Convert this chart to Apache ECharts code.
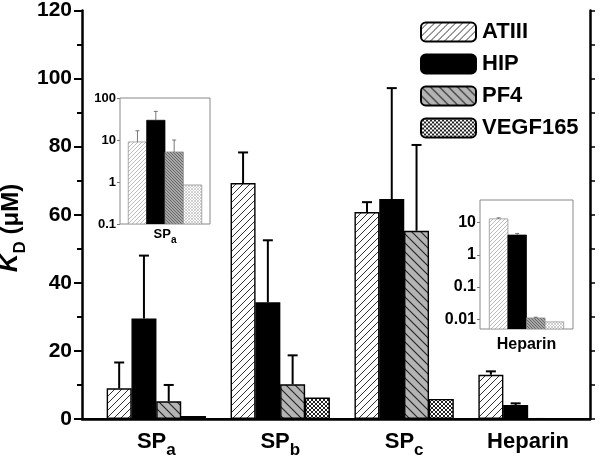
<!DOCTYPE html>
<html><head><meta charset="utf-8">
<script src="https://cdn.jsdelivr.net/npm/echarts@6/dist/echarts.min.js"></script>
<style>html,body{margin:0;padding:0;background:#fff}#c{width:600px;height:459px}</style>
</head><body><div id="c"></div>
<script>
// ---- data ----
const categories = ['SP', 'SP', 'SP', 'Heparin'];
const categorySubs = ['a', 'b', 'c', ''];
const seriesNames = ['ATIII', 'HIP', 'PF4', 'VEGF165'];
const atiii    = [9.0, 69.3, 60.8, 13.0];
const atiiiErr = [7.6, 9.0, 2.9, 1.0];
const hip      = [29.5, 34.3, 64.6, 4.1];
const hipErr   = [18.5, 18.2, 32.6, 0.5];
const pf4      = [5.2, 10.2, 55.3, 0.011];
const pf4Err   = [4.8, 8.5, 25.2, 0.0006];
const vegf     = [0.85, 6.3, 5.9, 0.0083];
const vegfErr  = [0, 0, 0, 0];
const yMain = { min: 0, max: 120, step: 20 };
const insetACat = 0;            // SPa
const insetBCat = 3;            // Heparin
const insetARange = [0.1, 100];
const insetBRange = [0.005, 50];

const values = [atiii, hip, pf4, vegf];
const errors = [atiiiErr, hipErr, pf4Err, vegfErr];

// ---- patterns ----
function hatch(size, bg, fg, lw, dir) {
  const c = document.createElement('canvas'); c.width = c.height = size;
  const g = c.getContext('2d');
  g.fillStyle = bg; g.fillRect(0, 0, size, size);
  g.strokeStyle = fg; g.lineWidth = lw; g.beginPath();
  if (dir > 0) {
    g.moveTo(-1, size + 1); g.lineTo(size + 1, -1);
    g.moveTo(-1, 1); g.lineTo(1, -1);
    g.moveTo(size - 1, size + 1); g.lineTo(size + 1, size - 1);
  } else {
    g.moveTo(-1, -1); g.lineTo(size + 1, size + 1);
    g.moveTo(size - 1, -1); g.lineTo(size + 1, 1);
    g.moveTo(-1, size - 1); g.lineTo(1, size + 1);
  }
  g.stroke();
  return { image: c, repeat: 'repeat' };
}
function cross(size, bg, fg, lw) {
  const c = document.createElement('canvas'); c.width = c.height = size;
  const g = c.getContext('2d');
  g.fillStyle = bg; g.fillRect(0, 0, size, size);
  g.strokeStyle = fg; g.lineWidth = lw; g.beginPath();
  g.moveTo(-1, size + 1); g.lineTo(size + 1, -1);
  g.moveTo(-1, -1); g.lineTo(size + 1, size + 1);
  g.stroke();
  return { image: c, repeat: 'repeat' };
}
const mainFill = [hatch(7, '#fff', '#333', 1, 1), '#000', hatch(9, '#b4b4b4', '#222', 1.1, -1), cross(4, '#fff', '#222', 1)];
const insetFill = [hatch(4, '#fff', '#aaa', 0.8, 1), '#000', hatch(3, '#a8a8a8', '#555', 0.8, -1), cross(3, '#fff', '#bbb', 0.7)];

const off = s => (s - 1.5) * 0.2;

function catLabel(v) {
  const i = Math.round(v) - 1;
  if (i < 0 || i >= categories.length) return '';
  return categorySubs[i] ? '{m|' + categories[i] + '}{s|' + categorySubs[i] + '}' : '{m|' + categories[i] + '}';
}
function richFor(big, small, drop) {
  return {
    m: { fontSize: big, fontWeight: 'bold', color: '#000', fontFamily: 'Liberation Sans', verticalAlign: 'bottom', lineHeight: big, padding: [0, 0, drop, 0] },
    s: { fontSize: small, fontWeight: 'bold', color: '#000', fontFamily: 'Liberation Sans', verticalAlign: 'bottom', lineHeight: small }
  };
}

function errRender(capHalf, lw, color) {
  return function (params, api) {
    const x = api.value(0), v = api.value(1), e = api.value(2);
    if (!(e > 0)) return;
    const p0 = api.coord([x, v]), p1 = api.coord([x, v + e]);
    return { type: 'group', children: [
      { type: 'line', shape: { x1: p0[0], y1: p0[1], x2: p1[0], y2: p1[1] }, style: { stroke: color, lineWidth: lw } },
      { type: 'line', shape: { x1: p1[0] - capHalf, y1: p1[1], x2: p1[0] + capHalf, y2: p1[1] }, style: { stroke: color, lineWidth: lw } }
    ] };
  };
}
function insetBarRender(params, api) {
  const x = api.value(0), v = api.value(1), s = api.value(2);
  const cs = params.coordSys;
  const pl = api.coord([x - 0.1, v]), pr = api.coord([x + 0.1, v]);
  const bottom = cs.y + cs.height;
  return { type: 'rect', shape: { x: pl[0], y: pl[1], width: pr[0] - pl[0], height: bottom - pl[1] },
    style: { fill: insetFill[s], stroke: s === 1 ? '#000' : '#888', lineWidth: 0.7 } };
}

const series = [];
seriesNames.forEach((name, s) => {
  series.push({
    type: 'bar', name, xAxisIndex: 0, yAxisIndex: 0, barWidth: 25, barGap: '-100%',
    data: values[s].map((v, i) => [i + 1 + off(s), v]),
    itemStyle: { color: mainFill[s], borderColor: '#000', borderWidth: 1.4 },
    z: 2, animation: false
  });
});
const mainErr = [];
seriesNames.forEach((n, s) => values[s].forEach((v, i) => mainErr.push([i + 1 + off(s), v, errors[s][i]])));
series.push({ type: 'custom', name: 'err', xAxisIndex: 0, yAxisIndex: 0, data: mainErr, renderItem: errRender(5, 2, '#000'), z: 3, animation: false, silent: true });

function insetSeries(cat, xi, yi) {
  const bars = [], errs = [];
  seriesNames.forEach((n, s) => {
    bars.push([cat + 1 + off(s), values[s][cat], s]);
    errs.push([cat + 1 + off(s), values[s][cat], errors[s][cat]]);
  });
  series.push({ type: 'custom', name: 'ib' + xi, xAxisIndex: xi, yAxisIndex: yi, data: bars, renderItem: insetBarRender, z: 12, animation: false, silent: true, clip: true });
  series.push({ type: 'custom', name: 'ie' + xi, xAxisIndex: xi, yAxisIndex: yi, data: errs, renderItem: errRender(2, 0.8, '#555'), z: 13, animation: false, silent: true });
}
insetSeries(insetACat, 2, 2);
insetSeries(insetBCat, 3, 3);

const logFmt = v => String(+(+v).toPrecision(3));

const option = {
  animation: false,
  backgroundColor: '#fff',
  textStyle: { fontFamily: 'Liberation Sans' },
  grid: [
    { left: 82, top: 9, width: 508, height: 411 },
    { left: 120, top: 98, width: 90, height: 126, show: true, borderColor: '#888', borderWidth: 1, backgroundColor: '#fff', z: 10 },
    { left: 480, top: 200, width: 93, height: 129, show: true, borderColor: '#888', borderWidth: 1, backgroundColor: '#fff', z: 10 }
  ],
  xAxis: [
    { gridIndex: 0, type: 'value', position: 'bottom', min: 0.4, max: 4.5,
      axisLine: { lineStyle: { color: '#000', width: 2.5 } }, axisTick: { show: false }, splitLine: { show: false },
      axisLabel: { customValues: [1, 2, 3, 4], formatter: v => catLabel(v), rich: richFor(22, 17, 6), margin: 18 } },
    { gridIndex: 0, type: 'value', position: 'top', min: 0.4, max: 4.5,
      axisLine: { lineStyle: { color: '#000', width: 2 } }, axisTick: { show: false }, splitLine: { show: false }, axisLabel: { show: false } },
    { gridIndex: 1, type: 'value', min: 0.51, max: 1.49, z: 11,
      axisLine: { show: false }, axisTick: { show: false }, splitLine: { show: false },
      axisLabel: { customValues: [insetACat + 1], formatter: v => catLabel(v), rich: richFor(13, 10, 4), margin: 8 } },
    { gridIndex: 2, type: 'value', min: 3.5, max: 4.5, z: 11,
      axisLine: { show: false }, axisTick: { show: false }, splitLine: { show: false },
      axisLabel: { customValues: [insetBCat + 1], formatter: v => catLabel(v), rich: richFor(16, 12, 0), margin: 8 } }
  ],
  yAxis: [
    { gridIndex: 0, type: 'value', position: 'left', min: yMain.min, max: yMain.max, interval: yMain.step,
      axisLine: { show: true, lineStyle: { color: '#000', width: 2.5 } },
      axisTick: { show: true, inside: false, length: 8, lineStyle: { color: '#000', width: 2 } },
      minorTick: { show: true, splitNumber: 2, length: 5, lineStyle: { color: '#000', width: 2 } },
      splitLine: { show: false },
      axisLabel: { fontSize: 21, fontWeight: 'bold', color: '#000', margin: 10 } },
    { gridIndex: 0, type: 'value', position: 'right', min: yMain.min, max: yMain.max, interval: yMain.step / 2,
      axisLine: { show: true, lineStyle: { color: '#000', width: 2.5 } },
      axisTick: { show: true, inside: false, length: 5, lineStyle: { color: '#000', width: 1.5 } },
      splitLine: { show: false }, axisLabel: { show: false } },
    { gridIndex: 1, type: 'log', min: insetARange[0], max: insetARange[1], splitNumber: 3, z: 11,
      axisLine: { show: false }, axisTick: { show: true, length: 3, lineStyle: { color: '#777', width: 1 } },
      splitLine: { show: false },
      axisLabel: { fontSize: 13, fontWeight: 'bold', color: '#000', margin: 4, formatter: logFmt } },
    { gridIndex: 2, type: 'log', min: insetBRange[0], max: insetBRange[1], splitNumber: 4, z: 11,
      axisLine: { show: false }, axisTick: { show: true, length: 3, lineStyle: { color: '#777', width: 1 } },
      splitLine: { show: false },
      axisLabel: { fontSize: 16, fontWeight: 'bold', color: '#000', margin: 4, formatter: logFmt, showMinLabel: false, showMaxLabel: false } }
  ],
  legend: {
    data: seriesNames, orient: 'vertical', left: 420, top: 21, padding: 0,
    itemWidth: 55, itemHeight: 19, itemGap: 10, selectedMode: false,
    textStyle: { fontSize: 22, fontWeight: 'bold', color: '#000', lineHeight: 19, padding: [0, 0, 0, 1] }
  },
  graphic: [{
    type: 'text', x: 16, y: 228, rotation: Math.PI / 2, z: 100,
    style: {
      text: '{k|K}{d|D}{n| (μM)}', align: 'center', verticalAlign: 'middle',
      rich: {
        k: { fontSize: 26, fontStyle: 'italic', fontWeight: 'bold', fill: '#000', fontFamily: 'Liberation Sans', verticalAlign: 'bottom', lineHeight: 26, padding: [0, 0, 6, 0] },
        d: { fontSize: 17, fontWeight: 'bold', fill: '#000', fontFamily: 'Liberation Sans', verticalAlign: 'bottom', lineHeight: 17 },
        n: { fontSize: 24, fontWeight: 'bold', fill: '#000', fontFamily: 'Liberation Sans', verticalAlign: 'bottom', lineHeight: 26, padding: [0, 0, 6, 0] }
      }
    }
  }],
  series
};
const chart = echarts.init(document.getElementById('c'), null, { renderer: 'canvas' });
chart.setOption(option);
</script></body></html>
